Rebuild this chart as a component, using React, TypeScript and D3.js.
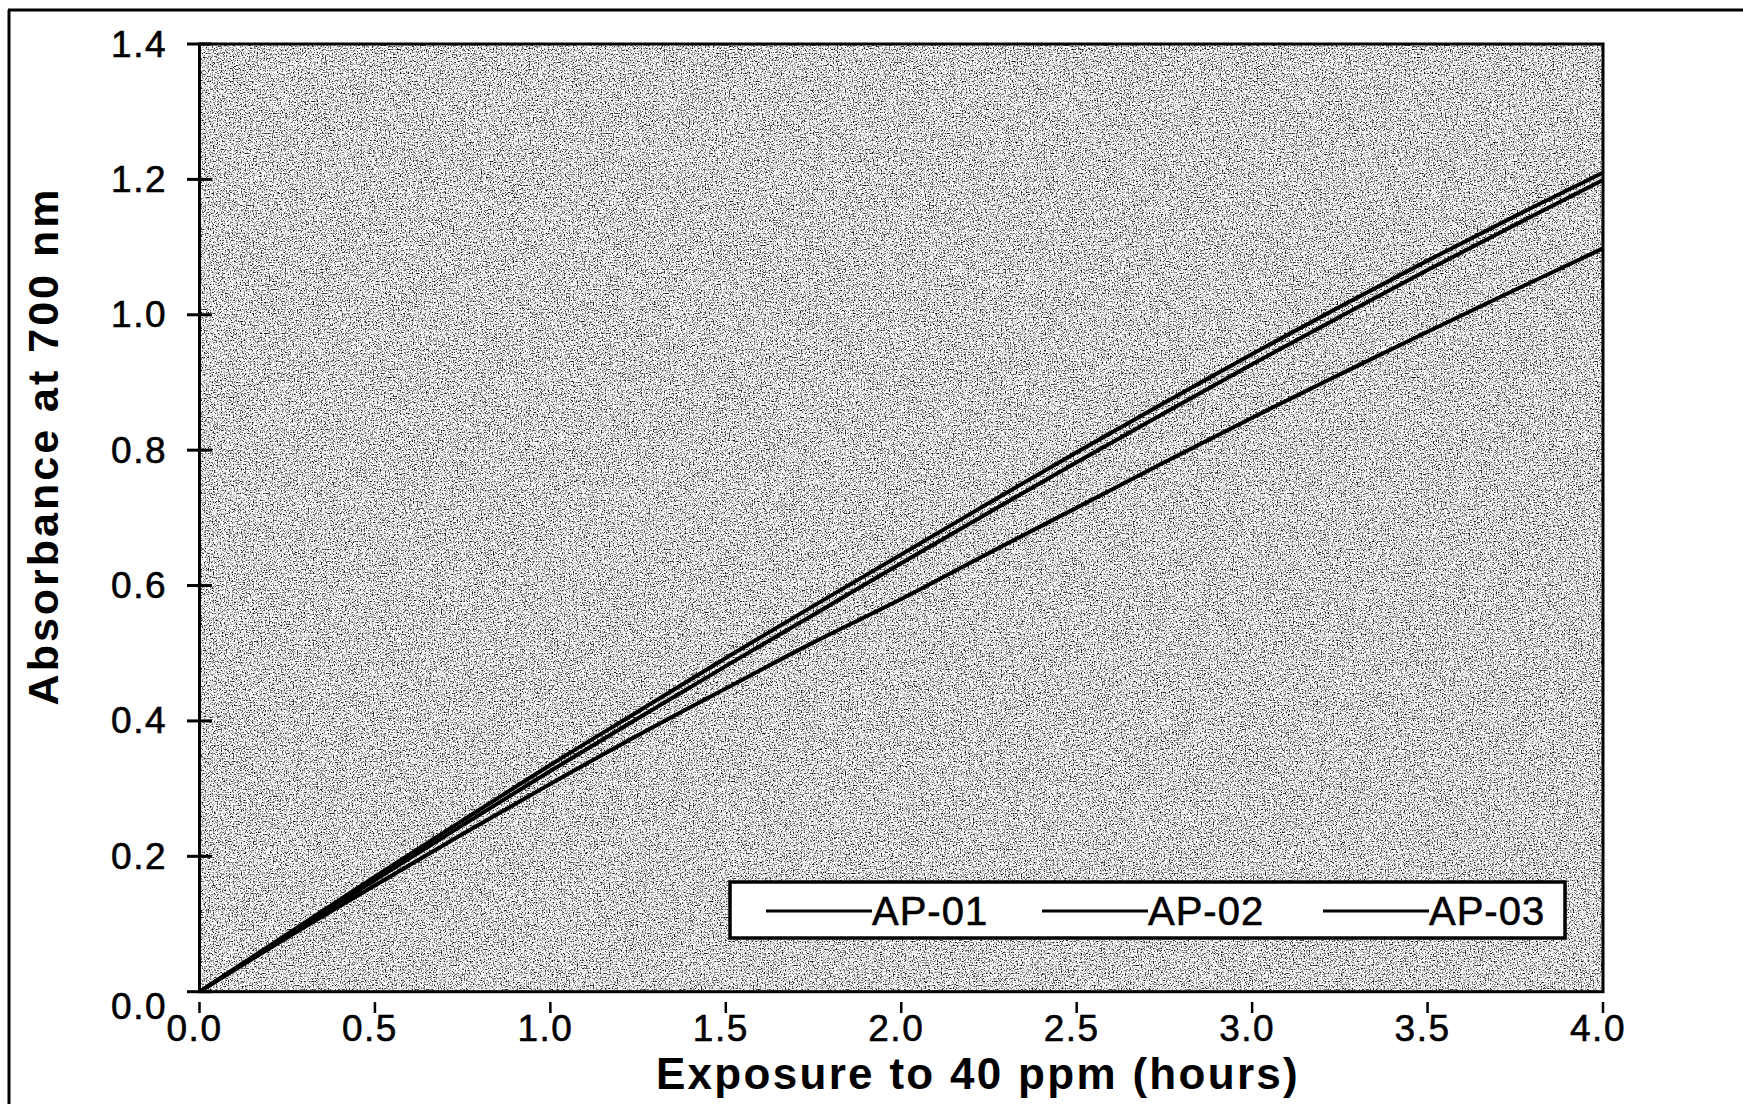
import React from "react";
import * as d3 from "d3";

// Exposure time (hours) at which absorbance was sampled
const hours = [0, 0.25, 0.5, 0.75, 1.0, 1.25, 1.5, 1.75, 2.0, 2.25, 2.5, 2.75, 3.0, 3.25, 3.5, 3.75, 4.0];

// Absorbance at 700 nm for each sample
const ap01 = [0, 0.085, 0.17, 0.253, 0.335, 0.414, 0.493, 0.57, 0.646, 0.722, 0.797, 0.87, 0.942, 1.012, 1.08, 1.146, 1.21];
const ap02 = [0, 0.083, 0.165, 0.246, 0.326, 0.404, 0.481, 0.557, 0.633, 0.708, 0.782, 0.855, 0.927, 0.997, 1.066, 1.133, 1.199];
const ap03 = [0, 0.08, 0.157, 0.233, 0.307, 0.379, 0.448, 0.516, 0.58, 0.648, 0.715, 0.782, 0.848, 0.912, 0.975, 1.037, 1.098];

const seriesNames = ["AP-01", "AP-02", "AP-03"];
const seriesValues = [ap01, ap02, ap03];

const xTicks = [0, 0.5, 1.0, 1.5, 2.0, 2.5, 3.0, 3.5, 4.0];
const yTicks = [0, 0.2, 0.4, 0.6, 0.8, 1.0, 1.2, 1.4];

const xTitle = "Exposure to 40 ppm (hours)";
const yTitle = "Absorbance at 700 nm";

const W = 1743;
const H = 1104;
const plot = { left: 199.5, right: 1603, top: 44, bottom: 991.7 };

export default function App() {
  const x = d3.scaleLinear().domain([0, 4]).range([plot.left, plot.right]);
  const y = d3.scaleLinear().domain([0, 1.4]).range([plot.bottom, plot.top]);

  const line = d3
    .line<[number, number]>()
    .x((d) => x(d[0]))
    .y((d) => y(d[1]))
    .curve(d3.curveMonotoneX);

  const font = "Arial, 'Liberation Sans', Helvetica, sans-serif";

  // legend layout
  const legend = { x0: 730, x1: 1565, y0: 882, y1: 938 };
  const legendStarts = [766, 1042, 1323];
  const legendLineLen = 106;

  return (
    <div style={{ position: "absolute", left: 0, top: 0, width: W, height: H, background: "#fff" }}>
      <svg width={W} height={H} style={{ display: "block" }}>
        <defs>
          <filter id="grain" x="0" y="0" width="1" height="1" filterUnits="objectBoundingBox">
            <feTurbulence type="fractalNoise" baseFrequency="0.75" numOctaves="3" seed="11" result="n" />
            <feColorMatrix
              in="n"
              type="matrix"
              values="0 0 0 0 0  0 0 0 0 0  0 0 0 0 0  3.2 0 0 0 -1.5"
            />
          </filter>
          <clipPath id="plotClip">
            <rect x={plot.left} y={plot.top} width={plot.right - plot.left} height={plot.bottom - plot.top} />
          </clipPath>
        </defs>

        {/* outer frame */}
        <line x1={8} y1={10} x2={W} y2={10} stroke="#000" strokeWidth={3} />
        <line x1={9} y1={10} x2={9} y2={H} stroke="#000" strokeWidth={3} />

        {/* stippled plot background */}
        <rect x={plot.left} y={plot.top} width={plot.right - plot.left} height={plot.bottom - plot.top} fill="#fff" />
        <rect
          x={plot.left}
          y={plot.top}
          width={plot.right - plot.left}
          height={plot.bottom - plot.top}
          fill="#000"
          filter="url(#grain)"
        />

        {/* data lines */}
        <g clipPath="url(#plotClip)">
          {seriesValues.map((vals, i) => (
            <path
              key={seriesNames[i]}
              d={line(hours.map((h, j) => [h, vals[j]] as [number, number])) || ""}
              fill="none"
              stroke="#000"
              strokeWidth={4}
            />
          ))}
        </g>

        {/* plot border */}
        <rect
          x={plot.left}
          y={plot.top}
          width={plot.right - plot.left}
          height={plot.bottom - plot.top}
          fill="none"
          stroke="#000"
          strokeWidth={3}
        />

        {/* y axis ticks and labels */}
        {yTicks.map((t) => (
          <g key={"y" + t}>
            <line x1={187} x2={212} y1={y(t)} y2={y(t)} stroke="#000" strokeWidth={3} />
            <text
              x={167}
              y={y(t) + (t === 0 ? 15 : 0)}
              textAnchor="end"
              dominantBaseline="central"
              fontFamily={font}
              fontSize={37}
              letterSpacing={1.5}
              stroke="#000"
              strokeWidth={0.6}
            >
              {t.toFixed(1)}
            </text>
          </g>
        ))}

        {/* x axis ticks and labels */}
        {xTicks.map((t) => (
          <g key={"x" + t}>
            <line x1={x(t)} x2={x(t)} y1={1002} y2={1013} stroke="#000" strokeWidth={2.5} />
            <text
              x={x(t) - 5}
              y={1041}
              textAnchor="middle"
              fontFamily={font}
              fontSize={37}
              letterSpacing={1.5}
              stroke="#000"
              strokeWidth={0.6}
            >
              {t.toFixed(1)}
            </text>
          </g>
        ))}

        {/* axis titles */}
        <text
          x={978}
          y={1089}
          textAnchor="middle"
          fontFamily={font}
          fontWeight="bold"
          fontSize={44}
          letterSpacing={2.3}
        >
          {xTitle}
        </text>
        <text
          transform={`translate(58, 446) rotate(-90)`}
          textAnchor="middle"
          fontFamily={font}
          fontWeight="bold"
          fontSize={43}
          letterSpacing={3}
        >
          {yTitle}
        </text>

        {/* legend */}
        <rect
          x={legend.x0}
          y={legend.y0}
          width={legend.x1 - legend.x0}
          height={legend.y1 - legend.y0}
          fill="#fff"
          stroke="#000"
          strokeWidth={3.5}
        />
        {seriesNames.map((name, i) => (
          <g key={"lg" + name}>
            <line
              x1={legendStarts[i]}
              x2={legendStarts[i] + legendLineLen}
              y1={911}
              y2={911}
              stroke="#000"
              strokeWidth={3}
            />
            <text
              x={legendStarts[i] + legendLineLen}
              y={925}
              fontFamily={font}
              fontSize={40}
              letterSpacing={1}
              stroke="#000"
              strokeWidth={0.6}
            >
              {name}
            </text>
          </g>
        ))}
      </svg>
    </div>
  );
}
